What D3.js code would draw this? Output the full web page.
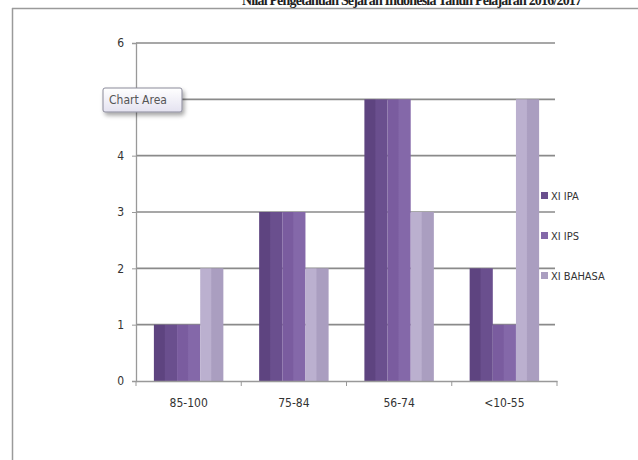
<!DOCTYPE html>
<html>
<head>
  <meta charset="UTF-8">
  <style>
    body {
      margin: 0;
      padding: 0;
      background-color: #fff;
    }
    svg text {
      font-family: "Liberation Sans Narrow", "DejaVu Sans Condensed", "Liberation Sans", sans-serif;
    }
  </style>
</head>
<body>
<svg id="chart" width="638" height="460"></svg>
<script src="https://d3js.org/d3.v7.min.js"></script>
<script>
// chart data
let categories = ["85-100", "75-84", "56-74", "<10-55"];
let seriesNames = ["XI IPA", "XI IPS", "XI BAHASA"];
let ipaValues = [1, 3, 5, 2];
let ipsValues = [1, 3, 5, 1];
let bahasaValues = [2, 2, 3, 5];
let yTicks = [0, 1, 2, 3, 4, 5, 6];
// "5" is hidden under the Chart Area box in the picture
let yTickLabels = ["0", "1", "2", "3", "4", "", "6"];
let titleText = "Nilai Pengetahuan Sejarah Indonesia Tahun Pelajaran 2016/2017";

let seriesValues = [ipaValues, ipsValues, bahasaValues];
let colors = [
  ["#5e4480", "#6a4f8e"],
  ["#7a5c9f", "#8468a9"],
  ["#bbb0cf", "#aa9ec0"]
];

let width = 638, height = 460;
let svg = d3.select("#chart");

// chart area border (top + left)
svg.append("line")
  .attr("x1", 12).attr("x2", width).attr("y1", 8.5).attr("y2", 8.5)
  .attr("stroke", "#9a9a9a").attr("stroke-width", 1.5);
svg.append("line")
  .attr("x1", 12.5).attr("x2", 12.5).attr("y1", 8).attr("y2", height)
  .attr("stroke", "#9a9a9a").attr("stroke-width", 1.5);

// cut-off title at the top
svg.append("text")
  .attr("x", 412)
  .attr("y", 5)
  .attr("text-anchor", "middle")
  .attr("textLength", 340)
  .style("font-family", "'Liberation Serif', 'DejaVu Serif', serif")
  .style("font-weight", "bold")
  .style("font-size", "14px")
  .attr("fill", "#222")
  .text(titleText);

let plot = { left: 136, right: 557, top: 43, bottom: 381 };

let x = d3.scaleBand()
  .domain(categories)
  .range([plot.left, plot.right])
  .paddingInner(0.34)
  .paddingOuter(0.17);

let xSub = d3.scaleBand()
  .domain(d3.range(seriesNames.length))
  .range([0, x.bandwidth()]);

let y = d3.scaleLinear()
  .domain([0, 6])
  .range([plot.bottom, plot.top]);

// gradients for the bars
let defs = svg.append("defs");
colors.forEach((c, i) => {
  let g = defs.append("linearGradient")
    .attr("id", "grad" + i)
    .attr("x1", "0%").attr("x2", "100%")
    .attr("y1", "0%").attr("y2", "0%");
  g.append("stop").attr("offset", "0%").attr("stop-color", c[0]);
  g.append("stop").attr("offset", "45%").attr("stop-color", c[0]);
  g.append("stop").attr("offset", "50%").attr("stop-color", c[1]);
  g.append("stop").attr("offset", "100%").attr("stop-color", c[1]);
});

let shadow = defs.append("filter").attr("id", "shadow")
  .attr("x", "-20%").attr("y", "-30%").attr("width", "150%").attr("height", "180%");
shadow.append("feDropShadow")
  .attr("dx", 2).attr("dy", 3).attr("stdDeviation", 2)
  .attr("flood-color", "#000").attr("flood-opacity", 0.35);

// gridlines
svg.append("g")
  .selectAll("line")
  .data(yTicks.filter(d => d > 0))
  .enter()
  .append("line")
  .attr("x1", plot.left)
  .attr("x2", plot.right - 2)
  .attr("y1", d => y(d))
  .attr("y2", d => y(d))
  .attr("stroke", "#8a8a8a")
  .attr("stroke-width", 1.6);

// bars
let groups = svg.append("g")
  .selectAll("g")
  .data(categories)
  .enter()
  .append("g")
  .attr("transform", d => "translate(" + x(d) + ",0)");

groups.selectAll("rect")
  .data((d, ci) => seriesValues.map((vals, si) => ({ si: si, v: vals[ci] })))
  .enter()
  .append("rect")
  .attr("x", d => xSub(d.si))
  .attr("width", xSub.bandwidth())
  .attr("y", d => y(d.v))
  .attr("height", d => y(0) - y(d.v))
  .attr("fill", d => "url(#grad" + d.si + ")");

// y axis
let yAxis = d3.axisLeft(y)
  .tickValues(yTicks)
  .tickSize(4)
  .tickPadding(8)
  .tickFormat((d, i) => yTickLabels[i]);

let yg = svg.append("g")
  .attr("transform", "translate(" + plot.left + ",0)")
  .call(yAxis);
yg.select(".domain").attr("stroke", "#999").attr("stroke-width", 1.3);
yg.selectAll(".tick line").attr("stroke", "#999");
yg.selectAll(".tick text")
  .style("font-size", "12px")
  .attr("fill", "#333");

// x axis
let xAxis = d3.axisBottom(x)
  .tickSize(0)
  .tickPadding(17);

let xg = svg.append("g")
  .attr("transform", "translate(0," + plot.bottom + ")")
  .call(xAxis);
xg.select(".domain").attr("stroke", "#999").attr("stroke-width", 1.3);
xg.selectAll(".tick text")
  .style("font-size", "12px")
  .attr("fill", "#333");

// x tick marks on the band boundaries
let step = x.step();
let boundaries = categories.map(c => x(c) - step * x.paddingInner() / 2);
boundaries.push(plot.right);
xg.selectAll(".bound")
  .data(boundaries)
  .enter()
  .append("line")
  .attr("x1", d => d).attr("x2", d => d)
  .attr("y1", 0).attr("y2", 5)
  .attr("stroke", "#999");

// legend
let legend = svg.append("g")
  .selectAll("g")
  .data(seriesNames)
  .enter()
  .append("g")
  .attr("transform", (d, i) => "translate(541," + (197 + i * 40) + ")");

legend.append("rect")
  .attr("x", 0).attr("y", -5)
  .attr("width", 7).attr("height", 7)
  .attr("fill", (d, i) => colors[i][1]);

legend.append("text")
  .attr("x", 10)
  .attr("y", 3)
  .style("font-size", "11px")
  .attr("fill", "#333")
  .text(d => d);

// "Chart Area" tooltip box
let tip = svg.append("g").attr("transform", "translate(103,88)");
let tipGrad = defs.append("linearGradient")
  .attr("id", "tipGrad")
  .attr("x1", "0%").attr("x2", "0%").attr("y1", "0%").attr("y2", "100%");
tipGrad.append("stop").attr("offset", "0%").attr("stop-color", "#ffffff");
tipGrad.append("stop").attr("offset", "100%").attr("stop-color", "#e4e2f0");

tip.append("rect")
  .attr("width", 79).attr("height", 24)
  .attr("rx", 2)
  .attr("fill", "url(#tipGrad)")
  .attr("stroke", "#8a8a9a")
  .attr("filter", "url(#shadow)");

tip.append("text")
  .attr("x", 6).attr("y", 16)
  .style("font-size", "12px")
  .attr("fill", "#555")
  .text("Chart Area");
</script>
</body>
</html>
